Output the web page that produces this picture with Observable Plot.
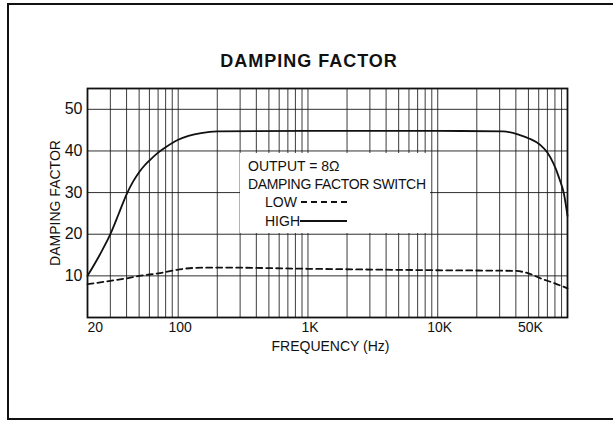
<!DOCTYPE html>
<html>
<head>
<meta charset="utf-8">
<script src="https://cdn.jsdelivr.net/npm/d3@7"></script>
<script src="https://cdn.jsdelivr.net/npm/@observablehq/plot@0.6"></script>
<style>
  html, body { margin: 0; padding: 0; background: #fff; }
  #wrap { position: relative; width: 613px; height: 424px; overflow: hidden; font-family: "Liberation Sans", Arial, sans-serif; color: #111; }
  #chart { position: absolute; left: 0; top: 0; }
  #title { position: absolute; left: 0; width: 618px; top: 52px; text-align: center; font-weight: bold; font-size: 18px; line-height: 18px; letter-spacing: 1px; }
  #border { position: absolute; left: 7px; top: 3px; width: 640px; height: 413px; border-top: 2px solid #111; border-left: 2px solid #111; border-bottom: 2px solid #111; pointer-events: none; }
  #legend { position: absolute; left: 240px; top: 153px; }
</style>
</head>
<body>
<div id="wrap">
  <div id="chart"></div>
  <div id="title">DAMPING FACTOR</div>
  <div id="legend"></div>
  <div id="border"></div>
</div>
<script>
// HIGH damping factor switch (solid)
const highFreq = [20, 25, 30, 35, 40, 45, 50, 55, 60, 70, 80, 100, 120, 150, 200, 1000, 10000, 32000, 43000, 50500, 61400, 70000, 86000, 94000, 100000];
const highDF   = [10, 15.2, 20, 25.1, 29.6, 32.7, 34.9, 36.5, 37.7, 39.6, 40.9, 42.7, 43.6, 44.3, 44.7, 44.8, 44.8, 44.7, 43.8, 43.0, 41.5, 39.6, 33.6, 29.6, 24.4];
// LOW damping factor switch (dashed)
const lowFreq = [20, 30, 40, 50, 70, 100, 130, 200, 1000, 10000, 39000, 50000, 62000, 80000, 100000];
const lowDF   = [8.0, 8.8, 9.4, 10, 10.6, 11.5, 11.9, 12.0, 11.7, 11.35, 11.2, 10.6, 9.4, 8.2, 7.0];

const xTickValues = [20, 100, 1000, 10000, 50000];
const xTickLabels = ["20", "100", "1K", "10K", "50K"];
const yTickValues = [10, 20, 30, 40, 50];
const xDomain = [20, 100000];
const yDomain = [0, 55];

const high = highFreq.map((f, i) => ({f, v: highDF[i]}));
const low = lowFreq.map((f, i) => ({f, v: lowDF[i]}));
const xTicks = xTickValues.map((v, i) => ({v, label: xTickLabels[i]}));
const gridXValues = d3.scaleLog().domain(xDomain).ticks();

const font = "'Liberation Sans', Arial, sans-serif";
const chart = Plot.plot({
  width: 613,
  height: 424,
  marginTop: 88,
  marginBottom: 107,
  marginLeft: 87,
  marginRight: 46,
  style: { fontFamily: font, color: "#111", background: "transparent" },
  x: { type: "log", domain: xDomain, axis: null },
  y: { domain: yDomain, axis: null },
  marks: [
    Plot.gridX(gridXValues, { stroke: "#1a1a1a", strokeOpacity: 0.85, strokeWidth: 1 }),
    Plot.gridY(yTickValues, { stroke: "#1a1a1a", strokeOpacity: 0.9, strokeWidth: 1 }),
    Plot.frame({ stroke: "#111", strokeWidth: 1.8 }),
    Plot.line(high, { x: "f", y: "v", curve: "monotone-x", stroke: "#111", strokeWidth: 1.8 }),
    Plot.line(low, { x: "f", y: "v", curve: "monotone-x", stroke: "#111", strokeWidth: 1.8, strokeDasharray: "6,4" }),
    Plot.text(yTickValues, { y: d => d, text: d => String(d), frameAnchor: "left", textAnchor: "end", dx: -5, fontSize: 16, fill: "#111" }),
    Plot.text(xTicks.slice(0, 1), { x: "v", text: "label", frameAnchor: "bottom", textAnchor: "start", dy: 14, fontSize: 14, fill: "#111" }),
    Plot.text(xTicks.slice(1), { x: "v", text: "label", frameAnchor: "bottom", dx: 2, dy: 14, fontSize: 14, fill: "#111" }),
    Plot.text(["FREQUENCY (Hz)"], { frameAnchor: "bottom", dx: 3, dy: 33, fontSize: 14, fill: "#111" }),
    Plot.text(["DAMPING FACTOR"], { frameAnchor: "left", textAnchor: "middle", rotate: -90, dx: -32, fontSize: 14, fill: "#111" })
  ]
});
document.getElementById("chart").appendChild(chart);

// legend box
const lg = d3.select("#legend").append("svg").attr("width", 190).attr("height", 80)
  .style("font-family", font).style("font-size", "14px").style("fill", "#111");
lg.append("rect").attr("width", 190).attr("height", 80).attr("fill", "#fff");
lg.append("text").attr("x", 8).attr("y", 18).text("OUTPUT = 8Ω");
lg.append("text").attr("x", 8).attr("y", 36).attr("textLength", 178).text("DAMPING FACTOR SWITCH");
lg.append("text").attr("x", 25).attr("y", 54).text("LOW");
lg.append("text").attr("x", 25).attr("y", 73).text("HIGH");
lg.append("line").attr("x1", 61).attr("x2", 107).attr("y1", 49).attr("y2", 49).attr("stroke", "#111").attr("stroke-width", 1.8).attr("stroke-dasharray", "6,4");
lg.append("line").attr("x1", 60).attr("x2", 107).attr("y1", 68).attr("y2", 68).attr("stroke", "#111").attr("stroke-width", 1.8);
</script>
</body>
</html>
